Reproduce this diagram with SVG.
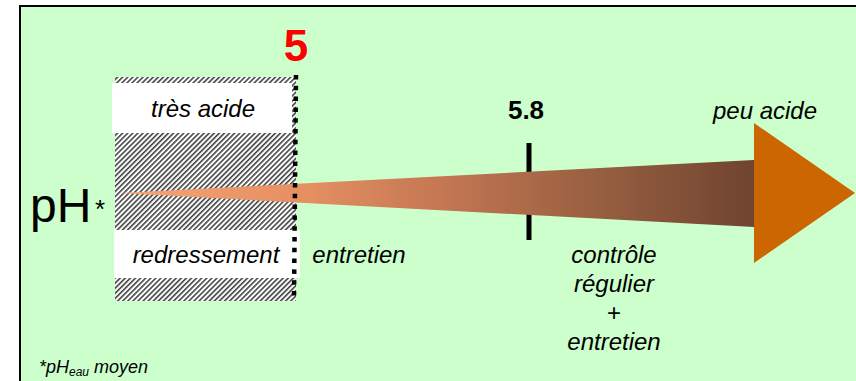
<svg xmlns="http://www.w3.org/2000/svg" width="856" height="381" viewBox="0 0 856 381">
<defs>
<pattern id="hatch" width="3.6" height="3.6" patternUnits="userSpaceOnUse" patternTransform="rotate(45)">
<rect width="3.6" height="3.6" fill="#ffffff"/>
<rect x="0" y="0" width="1.6" height="3.6" fill="#444444"/>
</pattern>
<linearGradient id="shaft" gradientUnits="userSpaceOnUse" x1="120" y1="0" x2="754" y2="0">
<stop offset="0" stop-color="#F8A473"/>
<stop offset="0.3" stop-color="#E48E62"/>
<stop offset="0.5" stop-color="#C57853"/>
<stop offset="0.8" stop-color="#8F5A3D"/>
<stop offset="1" stop-color="#704430"/>
</linearGradient>
<style>
text{font-family:"Liberation Sans",Arial,sans-serif;fill:#000}
.it{font-style:italic;font-size:24px}
.lbl{fill:#ffffff}
</style>
</defs>
<rect x="0" y="0" width="856" height="381" fill="#ffffff"/>
<rect x="20" y="6" width="860" height="400" fill="#CCFFCC" stroke="#000" stroke-width="2"/>

<g id="zone-acide">
<rect x="115" y="77" width="181" height="224" fill="url(#hatch)"/>
<rect class="lbl" x="112" y="83" width="180" height="50"/>
<rect class="lbl" x="114" y="230" width="186" height="48"/>
<text class="it" x="203" y="117" text-anchor="middle">très acide</text>
<text class="it" x="206" y="263" text-anchor="middle">redressement</text>
</g>

<g id="tick-58">
<line x1="529" y1="143" x2="529" y2="240" stroke="#000" stroke-width="5"/>
<text x="526" y="119" text-anchor="middle" font-weight="bold" font-size="26">5.8</text>
</g>

<g id="connectors">
<polygon points="120,193 754,160 754,227" fill="url(#shaft)"/>
<polygon points="754,123 855,193 754,263" fill="#CC6600"/>
</g>

<g id="seuil-5">
<line x1="296" y1="75" x2="294" y2="298" stroke="#000" stroke-width="4.5" stroke-dasharray="4.5 6.3"/>
<text x="296" y="61" text-anchor="middle" font-weight="bold" font-size="44" style="fill:#FF0000">5</text>
</g>

<g id="ph-label">
<text x="30" y="222" font-size="48">pH</text>
<text x="95" y="218" font-size="26">*</text>
</g>

<g id="labels">
<text class="it" x="359" y="263" text-anchor="middle">entretien</text>
<text class="it" x="765" y="119" text-anchor="middle">peu acide</text>
<text class="it" x="614" y="263" text-anchor="middle">contrôle</text>
<text class="it" x="614" y="292" text-anchor="middle">régulier</text>
<text x="614" y="321" text-anchor="middle" font-size="24">+</text>
<text class="it" x="614" y="350" text-anchor="middle">entretien</text>
</g>

<g id="footnote">
<text x="39" y="373" font-style="italic" font-size="18">*pH<tspan font-size="12" dy="3">eau</tspan><tspan dy="-3" font-size="18"> moyen</tspan></text>
</g>
</svg>
